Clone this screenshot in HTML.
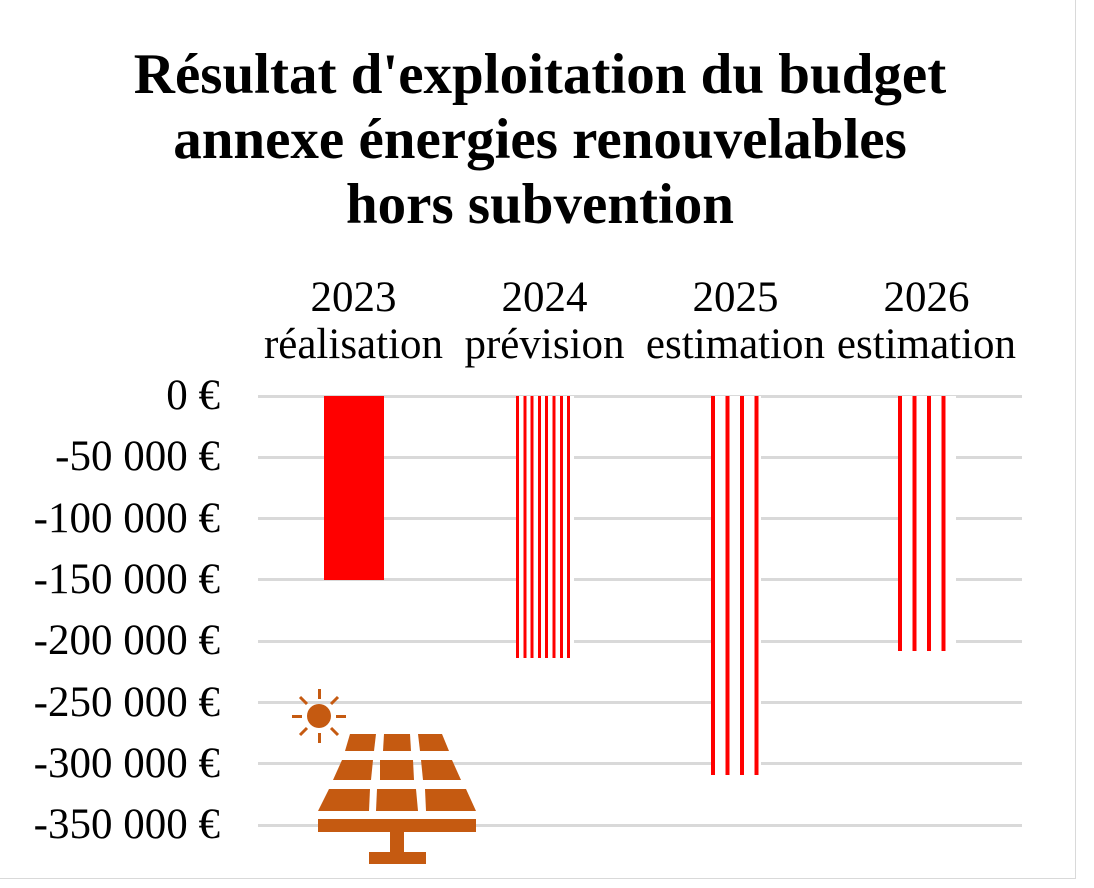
<!DOCTYPE html>
<html><head><meta charset="utf-8"><style>
body{margin:0;background:#fff;}
#c{position:relative;width:1094px;height:888px;overflow:hidden;font-family:"Liberation Serif",serif;}
.frame{position:absolute;left:-2px;top:-2px;width:1076px;height:879px;border:1px solid #d9d9d9;}
.title{position:absolute;left:0px;width:1080px;top:42px;text-align:center;font-weight:bold;font-size:57px;line-height:65px;white-space:nowrap;}
.cat{position:absolute;width:191px;text-align:center;font-size:43px;line-height:47px;top:274px;white-space:nowrap;}
.yl{position:absolute;right:874px;font-size:43px;line-height:40px;white-space:nowrap;}
.grid{position:absolute;left:258px;width:764px;height:3px;background:#d9d9d9;}
.bar{position:absolute;}
</style></head><body>
<div id="c">
<div class="frame"></div>
<div class="title">Résultat d'exploitation du budget<br>annexe énergies renouvelables<br>hors subvention</div>
<div id="plot"></div>
<svg style="position:absolute;left:280px;top:680px" width="220" height="200" viewBox="280 680 220 200">
<g fill="#c55a11">
<circle cx="319" cy="716" r="12"/>
<rect x="318" y="689" width="3" height="10"/><rect x="318" y="733" width="3" height="10"/>
<rect x="292" y="715" width="10" height="3"/><rect x="336" y="715" width="10" height="3"/>
<g stroke="#c55a11" stroke-width="3"><line x1="300" y1="697" x2="307" y2="704"/><line x1="331" y1="728" x2="338" y2="735"/><line x1="338" y1="697" x2="331" y2="704"/><line x1="307" y1="728" x2="300" y2="735"/></g>
<polygon points="350,734 376,734 374,751 345,751"/><polygon points="384,734 410,734 411,751 383,751"/><polygon points="418,734 442,734 449,751 420,751"/>
<polygon points="342,760 373,760 371,780 333,780"/><polygon points="380,760 413,760 414,780 380,780"/><polygon points="421,760 452,760 461,780 423,780"/>
<polygon points="329,789 370,789 369,811 318,811"/><polygon points="377,789 416,789 418,811 376,811"/><polygon points="425,789 466,789 476,811 426,811"/>
<rect x="318" y="819" width="158" height="13"/><rect x="390" y="832" width="14" height="20"/><rect x="369" y="852" width="57" height="12"/>
</g></svg>
</div>
<script>
const categories=["2023|réalisation","2024|prévision","2025|estimation","2026|estimation"];
const values=[-150000,-214000,-309000,-208000];
const ticks=[0,-50000,-100000,-150000,-200000,-250000,-300000,-350000];
const tickLabels=["0 €","-50 000 €","-100 000 €","-150 000 €","-200 000 €","-250 000 €","-300 000 €","-350 000 €"];
const patterns=["solid","dense","wide","wide"];
const plot=document.getElementById('plot');
const y=v=>396-v/50000*61.3;
const xc=i=>258+191*i+95.5;
ticks.forEach((t,i)=>{
 const g=document.createElement('div');g.className='grid';g.style.top=(y(t)-1.5)+'px';
 
 
 plot.appendChild(g);
 const l=document.createElement('div');l.className='yl';l.style.top=(y(t)-20)+'px';l.textContent=tickLabels[i];
 
 
 plot.appendChild(l);
});
categories.forEach((c,i)=>{
 const l=document.createElement('div');l.className='cat';l.style.left=(xc(i)-95.5)+'px';
 l.innerHTML=c.split('|').join('<br>');
 
 
 plot.appendChild(l);
 const b=document.createElement('div');b.className='bar';
 const w=i==2?50:58;
 b.style.left=(xc(i)-w/2)+'px';b.style.width=w+'px';
 b.style.top=y(0)+'px';b.style.height=(y(values[i])-y(0))+'px';
 if(patterns[i]=='solid'){b.style.background='#ff0000';b.style.left=(xc(i)-30)+'px';b.style.width='60px';}
 else if(patterns[i]=='dense'){b.style.background='repeating-linear-gradient(90deg,#ff0000 0 3px,#fff 3px 7.3px)';}
 else {b.style.background='repeating-linear-gradient(90deg,#ff0000 0 4px,#fff 4px 14.5px)';}
 
 
 plot.appendChild(b);
});
</script>
</body></html>
